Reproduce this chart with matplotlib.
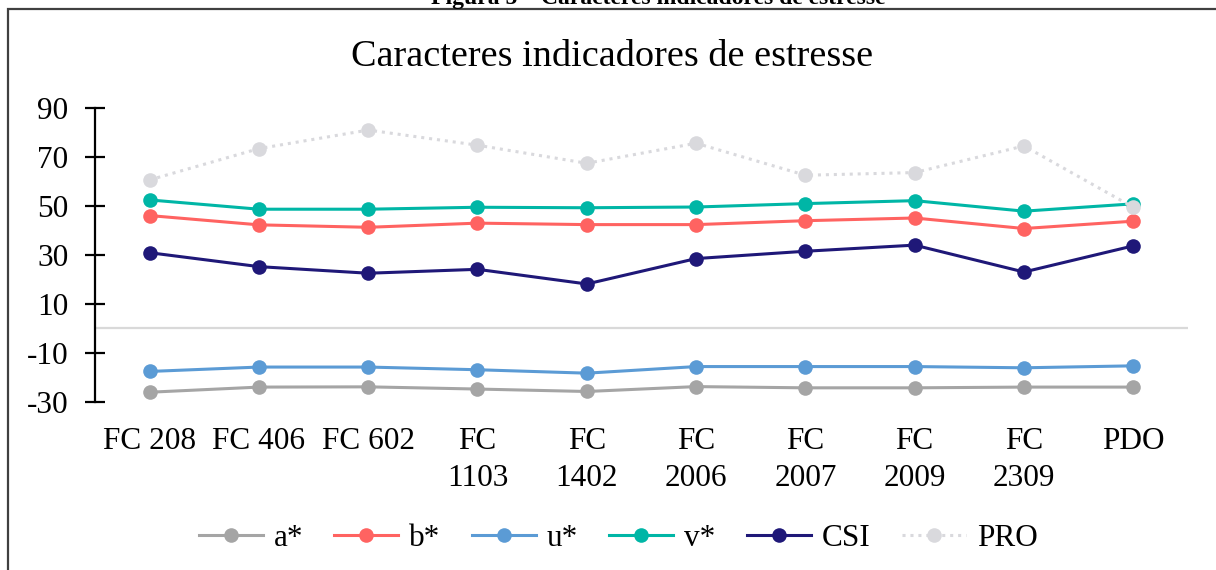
import numpy as np
import matplotlib
matplotlib.use("Agg")
import matplotlib.pyplot as plt
from matplotlib.patches import Rectangle

plt.rcParams['font.family'] = ['Liberation Serif', 'DejaVu Serif']
plt.rcParams['axes.unicode_minus'] = False

# data
categorias = ['FC 208', 'FC 406', 'FC 602', 'FC\n1103', 'FC\n1402',
              'FC\n2006', 'FC\n2007', 'FC\n2009', 'FC\n2309', 'PDO']
a_star = [-26.2, -24.1, -24.0, -24.9, -25.9, -23.9, -24.4, -24.4, -24.1, -24.1]
b_star = [46.1, 42.3, 41.3, 43.0, 42.4, 42.4, 44.0, 45.1, 40.8, 43.8]
u_star = [-17.7, -15.9, -15.9, -17.0, -18.4, -15.7, -15.7, -15.7, -16.2, -15.4]
v_star = [52.5, 48.7, 48.7, 49.5, 49.3, 49.6, 51.0, 52.2, 47.9, 50.9]
csi = [30.9, 25.2, 22.5, 24.1, 18.1, 28.5, 31.5, 34.0, 23.0, 33.7]
pro = [60.7, 73.5, 81.1, 74.9, 67.5, 75.7, 62.6, 63.7, 74.6, 49.5]

series = [('a*', a_star, '#a5a5a5', '-'),
          ('b*', b_star, '#ff6361', '-'),
          ('u*', u_star, '#5b9bd5', '-'),
          ('v*', v_star, '#00b6a6', '-'),
          ('CSI', csi, '#1f1878', '-'),
          ('PRO', pro, '#d9d9dd', (0, (1, 1.6)))]

fig = plt.figure(figsize=(12.16, 5.7), dpi=100)
ax = fig.add_axes([0.0781, 0.2956, 0.8988, 0.5144])

x = np.arange(len(categorias))
for nome, vals, cor, ls in series:
    ax.plot(x, vals, color=cor, linestyle=ls, linewidth=2.2, marker='o',
            markersize=10.5, markeredgewidth=0, label=nome)

ax.axhline(0, color='#d9d9d9', linewidth=1.6, zorder=0)

ax.set_xlim(-0.5, len(categorias) - 0.5)
ax.set_ylim(-30, 90)
ax.set_yticks(np.arange(-30, 91, 20))
ax.set_xticks(x)
ax.set_xticklabels(categorias, linespacing=1.38)

for s in ['top', 'right', 'bottom']:
    ax.spines[s].set_visible(False)
ax.spines['left'].set_linewidth(1.6)
ax.tick_params(axis='y', direction='inout', length=14, width=1.6,
               labelsize=22.5, pad=12)
ax.tick_params(axis='x', length=0, labelsize=22.5, pad=18)

fig.text(0.503, 0.9, 'Caracteres indicadores de estresse',
         ha='center', va='center', fontsize=27.5)

# caption above the frame, cut off at the top of the image
fig.text(0.541, 1 - 4 / 570, 'Figura 5 \u2013 Caracteres indicadores de estresse',
         ha='center', va='baseline', fontsize=17, fontweight='bold')

fig.legend(loc='center', bbox_to_anchor=(618 / 1216, 0.056), ncol=6,
           frameon=False, fontsize=22.5, handlelength=2.05,
           handletextpad=0.35, columnspacing=1.0)

fig.patches.append(Rectangle((8 / 1216, -0.05), 1.2, 1.05 - 9.5 / 570,
                             transform=fig.transFigure, fill=False,
                             edgecolor='#404040', linewidth=1.6))

fig.savefig('out.png', dpi=100)
